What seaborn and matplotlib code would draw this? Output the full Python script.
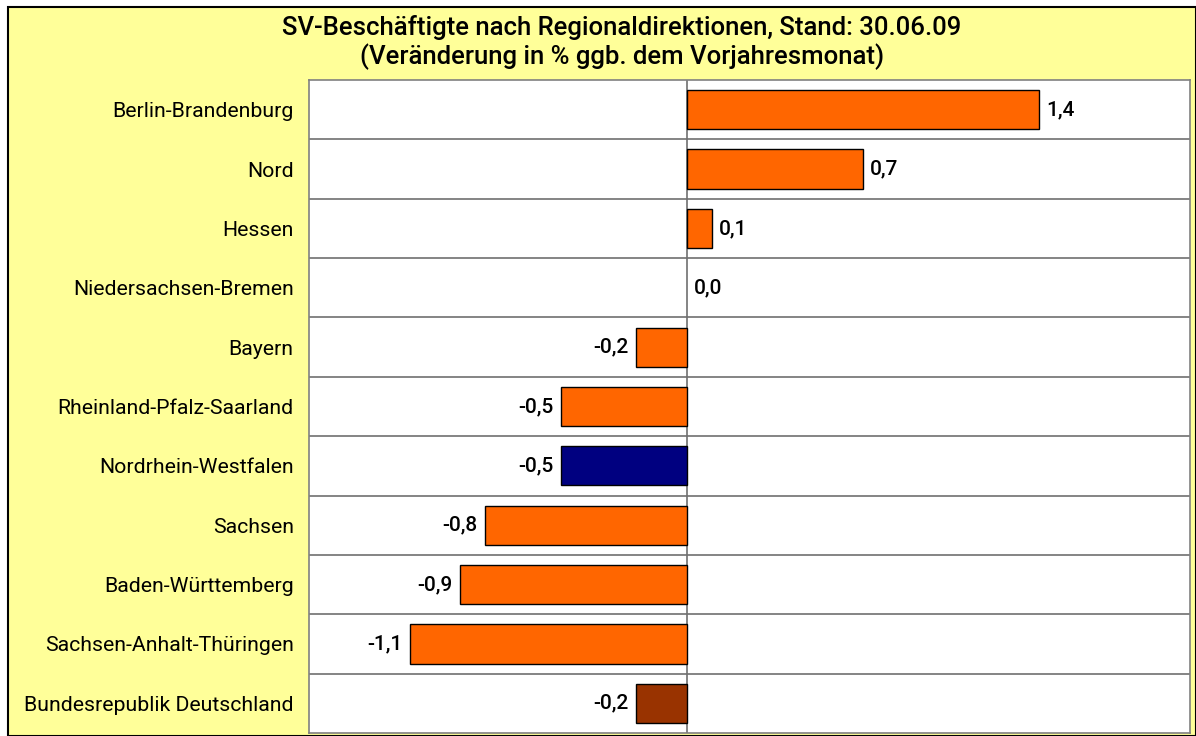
import matplotlib
matplotlib.use("Agg")
import matplotlib.pyplot as plt
import matplotlib.patches as mpatches
import seaborn as sns
import pandas as pd

regions = [
    "Berlin-Brandenburg", "Nord", "Hessen", "Niedersachsen-Bremen", "Bayern",
    "Rheinland-Pfalz-Saarland", "Nordrhein-Westfalen", "Sachsen",
    "Baden-Württemberg", "Sachsen-Anhalt-Thüringen", "Bundesrepublik Deutschland",
]
change = [1.4, 0.7, 0.1, 0.0, -0.2, -0.5, -0.5, -0.8, -0.9, -1.1, -0.2]
bar_colors = ["#FF6600"] * 6 + ["#000080"] + ["#FF6600"] * 3 + ["#993300"]

df = pd.DataFrame({"region": regions, "change": change})

sns.set_style("white")
plt.rcParams["font.family"] = ["Roboto", "DejaVu Sans"]
plt.rcParams["text.color"] = "black"
plt.rcParams["ytick.color"] = "black"

fig = plt.figure(figsize=(11.96, 7.36), dpi=100)
fig.patch.set_facecolor("white")
# yellow panel with black border, kept behind the axes
fig.patches.append(mpatches.Rectangle((8 / 1196, 0), 1 - 8 / 1196, 1 - 7 / 736,
                                      transform=fig.transFigure, facecolor="#FFFF99",
                                      edgecolor="black", linewidth=1.5, zorder=-5))

ax = fig.add_axes([309 / 1196, 3 / 736, (1190 - 309) / 1196, (733 - 80) / 736])
sns.barplot(data=df, y="region", x="change", hue="region", palette=bar_colors,
            orient="h", width=0.66, saturation=1, edgecolor="black", linewidth=1,
            legend=False, ax=ax)
for p in ax.patches:
    if p.get_width() == 0:
        p.set_linewidth(0)

ax.set_facecolor("white")
ax.set_xlim(-1.5, 2.0)
ax.set_ylim(len(regions) - 0.5, -0.5)
ax.axvline(0, color="#707070", linewidth=1.2, zorder=0.5)
for i in range(len(regions) - 1):
    ax.axhline(i + 0.5, color="#707070", linewidth=1.2, zorder=0.5)
for s in ax.spines.values():
    s.set_color("#808080")
    s.set_linewidth(1.2)

ax.set_xticks([])
ax.set_xlabel("")
ax.set_ylabel("")
ax.tick_params(axis="y", length=0, pad=11, labelsize=15.3, labelcolor="black")

for i, v in enumerate(change):
    label = f"{v:.1f}".replace(".", ",")
    if v >= 0:
        ax.text(v + 0.03, i, label, va="center", ha="left", fontsize=15, fontweight="medium")
    else:
        ax.text(v - 0.03, i, label, va="center", ha="right", fontsize=15, fontweight="medium")

fig.text(622 / 1196, 1 - 28 / 736, "SV-Beschäftigte nach Regionaldirektionen, Stand: 30.06.09",
         ha="center", va="center", fontsize=18.5, fontweight="medium")
fig.text(622 / 1196, 1 - 57 / 736, "(Veränderung in % ggb. dem Vorjahresmonat)",
         ha="center", va="center", fontsize=18.5, fontweight="medium")

plt.savefig("out.png", dpi=100)
